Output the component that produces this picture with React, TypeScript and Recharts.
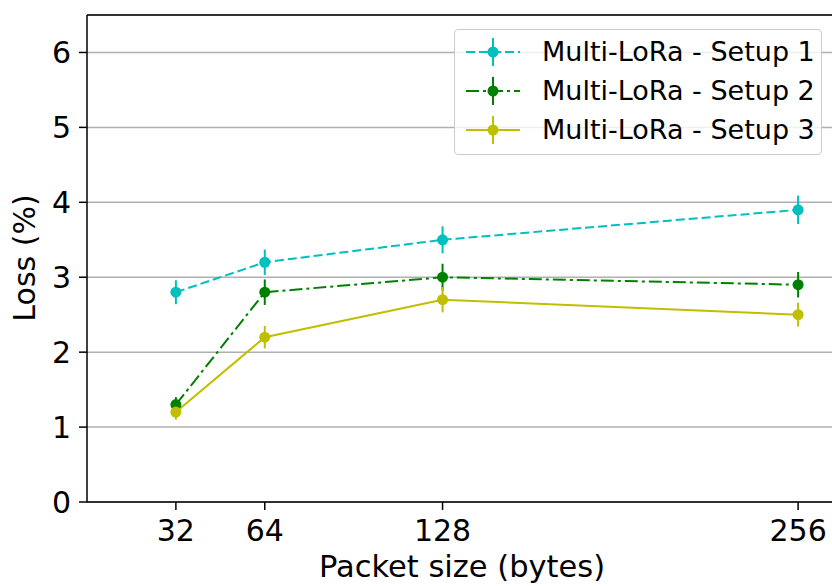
import React from 'react';
import {
  LineChart,
  Line,
  XAxis,
  YAxis,
  CartesianGrid,
  ErrorBar,
  Legend,
  Label,
  ReferenceLine,
} from 'recharts';

const packetSizes = [32, 64, 128, 256];
const setup1 = [2.8, 3.2, 3.5, 3.9];
const setup2 = [1.3, 2.8, 3.0, 2.9];
const setup3 = [1.2, 2.2, 2.7, 2.5];
const setup1Err = [0.16, 0.17, 0.18, 0.19];
const setup2Err = [0.1, 0.17, 0.18, 0.17];
const setup3Err = [0.1, 0.15, 0.17, 0.16];
const yTicks = [0, 1, 2, 3, 4, 5, 6];
const seriesNames = ['Multi-LoRa - Setup 1', 'Multi-LoRa - Setup 2', 'Multi-LoRa - Setup 3'];

const data = packetSizes.map((size, i) => ({
  size,
  s1: setup1[i],
  s2: setup2[i],
  s3: setup3[i],
  e1: setup1Err[i],
  e2: setup2Err[i],
  e3: setup3Err[i],
}));

const FONT = '"DejaVu Sans", sans-serif';
const series = [
  { key: 's1', err: 'e1', color: '#00bfbf', dash: '9 4' },
  { key: 's2', err: 'e2', color: '#008000', dash: '13 4 3 4' },
  { key: 's3', err: 'e3', color: '#bfbf00', dash: undefined as string | undefined },
];

const LegendBox = () => (
  <div
    style={{
      width: 366,
      height: 124,
      border: '1.5px solid #cccccc',
      borderRadius: 4,
      background: 'rgba(255,255,255,0.8)',
      position: 'relative',
      fontFamily: FONT,
    }}
  >
    {series.map((s, i) => (
      <div key={s.key} style={{ position: 'absolute', left: 0, top: 22 + i * 39 - 16, height: 32, width: 366 }}>
        <svg width={80} height={32} style={{ position: 'absolute', left: 0, top: 0 }}>
          <line x1={11} x2={65} y1={16} y2={16} stroke={s.color} strokeWidth={2} strokeDasharray={s.dash} />
          <line x1={38} x2={38} y1={2} y2={30} stroke={s.color} strokeWidth={2} />
          <circle cx={38} cy={16} r={5.5} fill={s.color} />
        </svg>
        <span
          style={{
            position: 'absolute',
            left: 87,
            top: 0,
            lineHeight: '32px',
            fontSize: 27,
            color: '#000',
            whiteSpace: 'nowrap',
          }}
        >
          {seriesNames[i]}
        </span>
      </div>
    ))}
  </div>
);

export default function App() {
  return (
    <div style={{ position: 'absolute', left: 0, top: 0, width: 832, height: 586, overflow: 'hidden', background: '#fff' }}>
      <LineChart width={860} height={586} data={data} margin={{ top: 15, right: 23, bottom: 0, left: 0 }}>
        <CartesianGrid vertical={false} stroke="#b0b0b0" strokeWidth={1.5} />
        <XAxis
          dataKey="size"
          type="number"
          domain={[0, 270]}
          ticks={packetSizes}
          height={84}
          stroke="#000"
          strokeWidth={1.5}
          tickSize={8}
          tickMargin={10}
          tick={{ fill: '#000', fontSize: 30, fontFamily: FONT }}
        >
          <Label
            content={() => (
              <text x={462} y={577} textAnchor="middle" fontSize={30.5} fontFamily={FONT} fill="#000">
                Packet size (bytes)
              </text>
            )}
          />
        </XAxis>
        <YAxis
          type="number"
          domain={[0, 6.5]}
          ticks={yTicks}
          width={87}
          stroke="#000"
          strokeWidth={1.5}
          tickSize={8}
          tickMargin={8}
          tick={{ fill: '#000', fontSize: 30, fontFamily: FONT }}
        >
          <Label
            content={() => (
              <text
                x={35}
                y={258}
                textAnchor="middle"
                transform="rotate(-90 35 258)"
                fontSize={30}
                fontFamily={FONT}
                fill="#000"
              >
                Loss (%)
              </text>
            )}
          />
        </YAxis>
        <ReferenceLine y={6.5} stroke="#000" strokeWidth={1.5} />
        <ReferenceLine x={270} stroke="#000" strokeWidth={1.5} />
        {series.map((s) => (
          <Line
            key={s.key}
            dataKey={s.key}
            stroke={s.color}
            strokeWidth={2}
            strokeDasharray={s.dash}
            dot={{ r: 5.5, fill: s.color, stroke: 'none' }}
            activeDot={false}
            isAnimationActive={false}
          >
            <ErrorBar dataKey={s.err} direction="y" width={0} stroke={s.color} strokeWidth={2} isAnimationActive={false} />
          </Line>
        ))}
        <Legend
          layout="vertical"
          align="center"
          verticalAlign="middle"
          content={() => <LegendBox />}
          wrapperStyle={{ position: 'absolute', left: 454, top: 29, width: 368, height: 126 }}
        />
      </LineChart>
    </div>
  );
}
